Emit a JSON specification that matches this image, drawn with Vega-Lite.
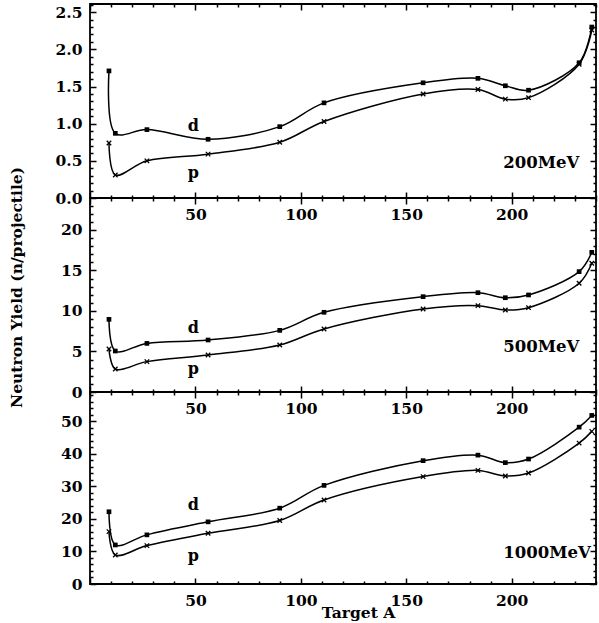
{
  "$schema": "https://vega.github.io/schema/vega-lite/v6.json",
  "padding": {"left": 8, "top": -4, "right": 4, "bottom": 0},
  "background": "white",
  "datasets": {
    "pts": [
      {"E": "200", "s": "d", "A": 9, "y": 1.71}, {"E": "200", "s": "d", "A": 12, "y": 0.87}, {"E": "200", "s": "d", "A": 27, "y": 0.92}, {"E": "200", "s": "d", "A": 56, "y": 0.79}, {"E": "200", "s": "d", "A": 90, "y": 0.96}, {"E": "200", "s": "d", "A": 111, "y": 1.28}, {"E": "200", "s": "d", "A": 158, "y": 1.55}, {"E": "200", "s": "d", "A": 184, "y": 1.61}, {"E": "200", "s": "d", "A": 197, "y": 1.51}, {"E": "200", "s": "d", "A": 208, "y": 1.45}, {"E": "200", "s": "d", "A": 232, "y": 1.82}, {"E": "200", "s": "d", "A": 238, "y": 2.30},
      {"E": "200", "s": "p", "A": 9, "y": 0.74}, {"E": "200", "s": "p", "A": 12, "y": 0.31}, {"E": "200", "s": "p", "A": 27, "y": 0.50}, {"E": "200", "s": "p", "A": 56, "y": 0.59}, {"E": "200", "s": "p", "A": 90, "y": 0.75}, {"E": "200", "s": "p", "A": 111, "y": 1.03}, {"E": "200", "s": "p", "A": 158, "y": 1.40}, {"E": "200", "s": "p", "A": 184, "y": 1.46}, {"E": "200", "s": "p", "A": 197, "y": 1.33}, {"E": "200", "s": "p", "A": 208, "y": 1.35}, {"E": "200", "s": "p", "A": 232, "y": 1.80}, {"E": "200", "s": "p", "A": 238, "y": 2.26},
      {"E": "500", "s": "d", "A": 9, "y": 8.97}, {"E": "500", "s": "d", "A": 12, "y": 5.06}, {"E": "500", "s": "d", "A": 27, "y": 6.0}, {"E": "500", "s": "d", "A": 56, "y": 6.42}, {"E": "500", "s": "d", "A": 90, "y": 7.61}, {"E": "500", "s": "d", "A": 111, "y": 9.84}, {"E": "500", "s": "d", "A": 158, "y": 11.77}, {"E": "500", "s": "d", "A": 184, "y": 12.26}, {"E": "500", "s": "d", "A": 197, "y": 11.64}, {"E": "500", "s": "d", "A": 208, "y": 11.98}, {"E": "500", "s": "d", "A": 232, "y": 14.86}, {"E": "500", "s": "d", "A": 238, "y": 17.24},
      {"E": "500", "s": "p", "A": 9, "y": 5.3}, {"E": "500", "s": "p", "A": 12, "y": 2.84}, {"E": "500", "s": "p", "A": 27, "y": 3.75}, {"E": "500", "s": "p", "A": 56, "y": 4.57}, {"E": "500", "s": "p", "A": 90, "y": 5.8}, {"E": "500", "s": "p", "A": 111, "y": 7.78}, {"E": "500", "s": "p", "A": 158, "y": 10.25}, {"E": "500", "s": "p", "A": 184, "y": 10.66}, {"E": "500", "s": "p", "A": 197, "y": 10.12}, {"E": "500", "s": "p", "A": 208, "y": 10.41}, {"E": "500", "s": "p", "A": 232, "y": 13.42}, {"E": "500", "s": "p", "A": 238, "y": 15.89},
      {"E": "1000", "s": "d", "A": 9, "y": 22.2}, {"E": "1000", "s": "d", "A": 12, "y": 12.0}, {"E": "1000", "s": "d", "A": 27, "y": 15.1}, {"E": "1000", "s": "d", "A": 56, "y": 19.1}, {"E": "1000", "s": "d", "A": 90, "y": 23.3}, {"E": "1000", "s": "d", "A": 111, "y": 30.3}, {"E": "1000", "s": "d", "A": 158, "y": 37.9}, {"E": "1000", "s": "d", "A": 184, "y": 39.6}, {"E": "1000", "s": "d", "A": 197, "y": 37.3}, {"E": "1000", "s": "d", "A": 208, "y": 38.4}, {"E": "1000", "s": "d", "A": 232, "y": 48.2}, {"E": "1000", "s": "d", "A": 238, "y": 51.8},
      {"E": "1000", "s": "p", "A": 9, "y": 16.1}, {"E": "1000", "s": "p", "A": 12, "y": 8.9}, {"E": "1000", "s": "p", "A": 27, "y": 11.8}, {"E": "1000", "s": "p", "A": 56, "y": 15.6}, {"E": "1000", "s": "p", "A": 90, "y": 19.5}, {"E": "1000", "s": "p", "A": 111, "y": 25.8}, {"E": "1000", "s": "p", "A": 158, "y": 33.0}, {"E": "1000", "s": "p", "A": 184, "y": 34.9}, {"E": "1000", "s": "p", "A": 197, "y": 33.2}, {"E": "1000", "s": "p", "A": 208, "y": 34.1}, {"E": "1000", "s": "p", "A": 232, "y": 43.3}, {"E": "1000", "s": "p", "A": 238, "y": 46.9}
    ],
    "labs": [
      {"E": "200", "k": "s", "A": 49, "y": 0.97, "t": "d"}, {"E": "200", "k": "s", "A": 49, "y": 0.34, "t": "p"}, {"E": "200", "k": "e", "A": 196, "y": 0.47, "t": "200MeV"},
      {"E": "500", "k": "s", "A": 49, "y": 7.9, "t": "d"}, {"E": "500", "k": "s", "A": 49, "y": 2.8, "t": "p"}, {"E": "500", "k": "e", "A": 196, "y": 5.5, "t": "500MeV"},
      {"E": "1000", "k": "s", "A": 49, "y": 24.3, "t": "d"}, {"E": "1000", "k": "s", "A": 49, "y": 8.6, "t": "p"}, {"E": "1000", "k": "e", "A": 196, "y": 9.5, "t": "1000MeV"}
    ]
  },
  "spacing": 0,
  "bounds": "flush",
  "vconcat": [
    {
      "width": 506, "height": 194,
      "layer": [
        {
          "data": {"name": "pts"}, "transform": [{"filter": "datum.E == '200'"}],
          "mark": {"type": "line", "interpolate": "catmull-rom", "color": "black", "strokeWidth": 1.5},
          "encoding": {
            "x": {"field": "A", "type": "quantitative", "scale": {"domain": [0, 240], "nice": false, "zero": false},
                  "axis": {"orient": "bottom", "title": null, "values": [0,10,20,30,40,50,60,70,80,90,100,110,120,130,140,150,160,170,180,190,200,210,220,230,240], "labelExpr": "datum.value % 50 == 0 && datum.value > 0 ? datum.label : ''", "tickSize": {"condition": {"test": "datum.value % 50 == 0", "value": -6}, "value": -3}, "labelPadding": 15}},
            "y": {"field": "y", "type": "quantitative", "scale": {"domain": [0, 2.61], "nice": false},
                  "axis": {"orient": "left", "title": null, "values": [0,0.1,0.2,0.3,0.4,0.5,0.6,0.7,0.8,0.9,1.0,1.1,1.2,1.3,1.4,1.5,1.6,1.7,1.8,1.9,2.0,2.1,2.2,2.3,2.4,2.5,2.6], "labelExpr": "abs(datum.value*2-round(datum.value*2)) < 0.001 ? format(datum.value, '.1f') : ''", "tickSize": {"condition": {"test": "abs(datum.value*2-round(datum.value*2)) < 0.001", "value": -6}, "value": -3}, "labelPadding": 14}},
            "detail": {"field": "s"}
          }
        },
        {
          "data": {"name": "pts"}, "transform": [{"filter": "datum.E == '200' && datum.s == 'd'"}],
          "mark": {"type": "point", "shape": "square", "filled": true, "color": "black", "size": 22, "opacity": 1},
          "encoding": {
            "x": {"field": "A", "type": "quantitative", "axis": {"orient": "top", "title": null, "labels": false, "minExtent": 0, "maxExtent": 0, "values": [0,10,20,30,40,50,60,70,80,90,100,110,120,130,140,150,160,170,180,190,200,210,220,230,240], "tickSize": {"condition": {"test": "datum.value % 50 == 0", "value": -6}, "value": -3}}},
            "y": {"field": "y", "type": "quantitative", "axis": {"orient": "right", "title": null, "labels": false, "minExtent": 0, "maxExtent": 0, "values": [0,0.1,0.2,0.3,0.4,0.5,0.6,0.7,0.8,0.9,1.0,1.1,1.2,1.3,1.4,1.5,1.6,1.7,1.8,1.9,2.0,2.1,2.2,2.3,2.4,2.5,2.6], "tickSize": {"condition": {"test": "abs(datum.value*2-round(datum.value*2)) < 0.001", "value": -6}, "value": -3}}}
          }
        },
        {
          "data": {"name": "pts"}, "transform": [{"filter": "datum.E == '200' && datum.s == 'p'"}],
          "mark": {"type": "point", "shape": "M-1,-1L1,1M1,-1L-1,1", "filled": false, "color": "black", "size": 20, "strokeWidth": 1.3, "opacity": 1},
          "encoding": {"x": {"field": "A", "type": "quantitative", "axis": null}, "y": {"field": "y", "type": "quantitative", "axis": null}}
        },
        {
          "data": {"name": "labs"}, "transform": [{"filter": "datum.E == '200' && datum.k == 's'"}],
          "mark": {"type": "text", "font": "DejaVu Serif", "fontWeight": "bold", "fontSize": 16, "color": "black", "align": "center", "baseline": "middle"},
          "encoding": {"x": {"field": "A", "type": "quantitative", "axis": null}, "y": {"field": "y", "type": "quantitative", "axis": null}, "text": {"field": "t"}}
        },
        {
          "data": {"name": "labs"}, "transform": [{"filter": "datum.E == '200' && datum.k == 'e'"}],
          "mark": {"type": "text", "font": "DejaVu Serif", "fontWeight": "bold", "fontSize": 16.5, "color": "black", "align": "left", "baseline": "middle"},
          "encoding": {"x": {"field": "A", "type": "quantitative", "axis": null}, "y": {"field": "y", "type": "quantitative", "axis": null}, "text": {"field": "t"}}
        }
      ],
      "resolve": {"axis": {"x": "independent", "y": "independent"}}
    },
    {
      "width": 506, "height": 194,
      "layer": [
        {
          "data": {"name": "pts"}, "transform": [{"filter": "datum.E == '500'"}],
          "mark": {"type": "line", "interpolate": "catmull-rom", "color": "black", "strokeWidth": 1.5},
          "encoding": {
            "x": {"field": "A", "type": "quantitative", "scale": {"domain": [0, 240], "nice": false, "zero": false},
                  "axis": {"orient": "bottom", "title": null, "values": [0,10,20,30,40,50,60,70,80,90,100,110,120,130,140,150,160,170,180,190,200,210,220,230,240], "labelExpr": "datum.value % 50 == 0 && datum.value > 0 ? datum.label : ''", "tickSize": {"condition": {"test": "datum.value % 50 == 0", "value": -6}, "value": -3}, "labelPadding": 15}},
            "y": {"field": "y", "type": "quantitative", "scale": {"domain": [0, 23.95], "nice": false},
                  "axis": {"orient": "left", "title": "Neutron Yield (n/projectile)", "titleX": -74, "titleY": 89, "titleBaseline": "middle", "titleAlign": "center", "values": [0,1,2,3,4,5,6,7,8,9,10,11,12,13,14,15,16,17,18,19,20,21,22,23], "labelExpr": "datum.value % 5 == 0 ? datum.label : ''", "tickSize": {"condition": {"test": "datum.value % 5 == 0", "value": -6}, "value": -3}, "labelPadding": 14}},
            "detail": {"field": "s"}
          }
        },
        {
          "data": {"name": "pts"}, "transform": [{"filter": "datum.E == '500' && datum.s == 'd'"}],
          "mark": {"type": "point", "shape": "square", "filled": true, "color": "black", "size": 22, "opacity": 1},
          "encoding": {
            "x": {"field": "A", "type": "quantitative", "axis": {"orient": "top", "title": null, "labels": false, "minExtent": 0, "maxExtent": 0, "values": [0,10,20,30,40,50,60,70,80,90,100,110,120,130,140,150,160,170,180,190,200,210,220,230,240], "tickSize": {"condition": {"test": "datum.value % 50 == 0", "value": -6}, "value": -3}}},
            "y": {"field": "y", "type": "quantitative", "axis": {"orient": "right", "title": null, "labels": false, "minExtent": 0, "maxExtent": 0, "values": [0,1,2,3,4,5,6,7,8,9,10,11,12,13,14,15,16,17,18,19,20,21,22,23], "tickSize": {"condition": {"test": "datum.value % 5 == 0", "value": -6}, "value": -3}}}
          }
        },
        {
          "data": {"name": "pts"}, "transform": [{"filter": "datum.E == '500' && datum.s == 'p'"}],
          "mark": {"type": "point", "shape": "M-1,-1L1,1M1,-1L-1,1", "filled": false, "color": "black", "size": 20, "strokeWidth": 1.3, "opacity": 1},
          "encoding": {"x": {"field": "A", "type": "quantitative", "axis": null}, "y": {"field": "y", "type": "quantitative", "axis": null}}
        },
        {
          "data": {"name": "labs"}, "transform": [{"filter": "datum.E == '500' && datum.k == 's'"}],
          "mark": {"type": "text", "font": "DejaVu Serif", "fontWeight": "bold", "fontSize": 16, "color": "black", "align": "center", "baseline": "middle"},
          "encoding": {"x": {"field": "A", "type": "quantitative", "axis": null}, "y": {"field": "y", "type": "quantitative", "axis": null}, "text": {"field": "t"}}
        },
        {
          "data": {"name": "labs"}, "transform": [{"filter": "datum.E == '500' && datum.k == 'e'"}],
          "mark": {"type": "text", "font": "DejaVu Serif", "fontWeight": "bold", "fontSize": 16.5, "color": "black", "align": "left", "baseline": "middle"},
          "encoding": {"x": {"field": "A", "type": "quantitative", "axis": null}, "y": {"field": "y", "type": "quantitative", "axis": null}, "text": {"field": "t"}}
        }
      ],
      "resolve": {"axis": {"x": "independent", "y": "independent"}}
    },
    {
      "width": 506, "height": 192,
      "layer": [
        {
          "data": {"name": "pts"}, "transform": [{"filter": "datum.E == '1000'"}],
          "mark": {"type": "line", "interpolate": "catmull-rom", "color": "black", "strokeWidth": 1.5},
          "encoding": {
            "x": {"field": "A", "type": "quantitative", "scale": {"domain": [0, 240], "nice": false, "zero": false},
                  "axis": {"orient": "bottom", "title": "Target A", "titleX": 268, "titleY": 33, "titleBaseline": "alphabetic", "titleAlign": "center", "values": [0,10,20,30,40,50,60,70,80,90,100,110,120,130,140,150,160,170,180,190,200,210,220,230,240], "labelExpr": "datum.value % 50 == 0 && datum.value > 0 ? datum.label : ''", "tickSize": {"condition": {"test": "datum.value % 50 == 0", "value": -6}, "value": -3}, "labelPadding": 15}},
            "y": {"field": "y", "type": "quantitative", "scale": {"domain": [0, 59], "nice": false},
                  "axis": {"orient": "left", "title": null, "values": [0,2,4,6,8,10,12,14,16,18,20,22,24,26,28,30,32,34,36,38,40,42,44,46,48,50,52,54,56,58], "labelExpr": "datum.value % 10 == 0 ? datum.label : ''", "tickSize": {"condition": {"test": "datum.value % 10 == 0", "value": -6}, "value": -3}, "labelPadding": 14}},
            "detail": {"field": "s"}
          }
        },
        {
          "data": {"name": "pts"}, "transform": [{"filter": "datum.E == '1000' && datum.s == 'd'"}],
          "mark": {"type": "point", "shape": "square", "filled": true, "color": "black", "size": 22, "opacity": 1},
          "encoding": {
            "x": {"field": "A", "type": "quantitative", "axis": {"orient": "top", "title": null, "labels": false, "minExtent": 0, "maxExtent": 0, "values": [0,10,20,30,40,50,60,70,80,90,100,110,120,130,140,150,160,170,180,190,200,210,220,230,240], "tickSize": {"condition": {"test": "datum.value % 50 == 0", "value": -6}, "value": -3}}},
            "y": {"field": "y", "type": "quantitative", "axis": {"orient": "right", "title": null, "labels": false, "minExtent": 0, "maxExtent": 0, "values": [0,2,4,6,8,10,12,14,16,18,20,22,24,26,28,30,32,34,36,38,40,42,44,46,48,50,52,54,56,58], "tickSize": {"condition": {"test": "datum.value % 10 == 0", "value": -6}, "value": -3}}}
          }
        },
        {
          "data": {"name": "pts"}, "transform": [{"filter": "datum.E == '1000' && datum.s == 'p'"}],
          "mark": {"type": "point", "shape": "M-1,-1L1,1M1,-1L-1,1", "filled": false, "color": "black", "size": 20, "strokeWidth": 1.3, "opacity": 1},
          "encoding": {"x": {"field": "A", "type": "quantitative", "axis": null}, "y": {"field": "y", "type": "quantitative", "axis": null}}
        },
        {
          "data": {"name": "labs"}, "transform": [{"filter": "datum.E == '1000' && datum.k == 's'"}],
          "mark": {"type": "text", "font": "DejaVu Serif", "fontWeight": "bold", "fontSize": 16, "color": "black", "align": "center", "baseline": "middle"},
          "encoding": {"x": {"field": "A", "type": "quantitative", "axis": null}, "y": {"field": "y", "type": "quantitative", "axis": null}, "text": {"field": "t"}}
        },
        {
          "data": {"name": "labs"}, "transform": [{"filter": "datum.E == '1000' && datum.k == 'e'"}],
          "mark": {"type": "text", "font": "DejaVu Serif", "fontWeight": "bold", "fontSize": 16.5, "color": "black", "align": "left", "baseline": "middle"},
          "encoding": {"x": {"field": "A", "type": "quantitative", "axis": null}, "y": {"field": "y", "type": "quantitative", "axis": null}, "text": {"field": "t"}}
        }
      ],
      "resolve": {"axis": {"x": "independent", "y": "independent"}}
    }
  ],
  "config": {
    "view": {"stroke": "black", "strokeWidth": 1.8},
    "axis": {
      "domain": false, "grid": false,
      "tickColor": "black", "tickWidth": 1.5,
      "labelFont": "DejaVu Serif", "labelFontWeight": "bold", "labelFontSize": 15.5, "labelColor": "black",
      "labelOverlap": false, "labelBound": false, "labelFlush": false,
      "titleFont": "DejaVu Serif", "titleFontWeight": "bold", "titleFontSize": 15.5, "titleColor": "black"
    }
  }
}
